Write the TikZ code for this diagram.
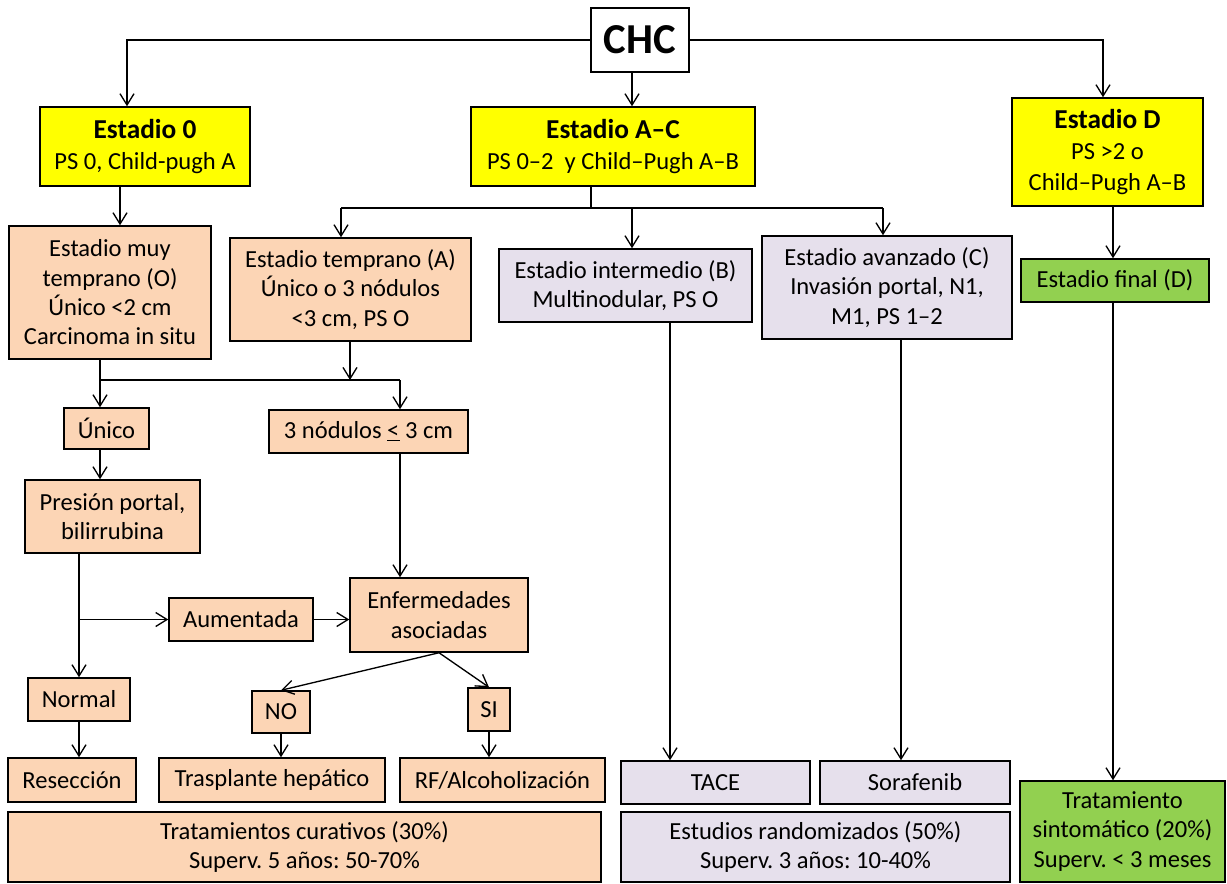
\documentclass[tikz,border=0pt]{standalone}
\usepackage{fontspec}
\setmainfont{Carlito}
\usetikzlibrary{arrows.meta}
\definecolor{cyel}{HTML}{FFFF00}
\definecolor{cpea}{HTML}{FCD5B5}
\definecolor{clav}{HTML}{E6E0EC}
\definecolor{cgrn}{HTML}{92D050}
\newcommand{\hdrfont}{\fontsize{20.5}{24}\selectfont\bfseries}
\frenchspacing
\tikzset{
  span/.style n args={4}{at={({(#1+#2)/2},{(#3+#4)/2})},
    minimum width={(#2-#1)*0.75pt}, minimum height={(#4-#3)*0.75pt}},
  bx/.style={draw=black, line width=1.1pt, inner sep=0pt, align=center,
    font=\fontsize{18.4}{22}\selectfont},
  ybx/.style={bx, fill=cyel, font=\fontsize{18.4}{23.5}\selectfont},
  pbx/.style={bx, fill=cpea},
  lbx/.style={bx, fill=clav},
  gbx/.style={bx, fill=cgrn},
  arr/.style={line width=1pt, -{Straight Barb[length=8.5pt,width=10.5pt,line width=1pt]}},
  ln/.style={line width=1pt}
}
\begin{document}
\begin{tikzpicture}[x=0.75pt,y=-0.75pt]
\useasboundingbox (0,0) rectangle (1227,883);
% top
\node[bx, fill=white, span={591}{689}{8}{72}, font=\fontsize{32}{36}\selectfont\bfseries] (chc) {CHC};
\node[ybx, span={40}{250}{107}{186}] (est0) {{\hdrfont Estadio 0}\\PS 0, Child-pugh A};
\node[ybx, span={471}{755}{107}{186}] (estAC) {{\hdrfont Estadio A--C}\\PS 0--2\ \ y Child--Pugh A--B};
\node[ybx, span={1012}{1203}{98}{206}] (estD) {{\hdrfont Estadio D}\\PS >2 o\\Child--Pugh A--B};
% second row
\node[pbx, span={9}{211}{226}{359}] (muy) {Estadio muy\\temprano (O)\\Único <2 cm\\Carcinoma in situ};
\node[pbx, span={230}{471}{238}{341}] (temp) {Estadio temprano (A)\\Único o 3 nódulos\\<3 cm, PS O};
\node[lbx, span={499}{752}{249}{322}] (inter) {Estadio intermedio (B)\\Multinodular, PS O};
\node[lbx, span={762}{1012}{236}{339}] (avan) {Estadio avanzado (C)\\Invasión portal, N1,\\M1, PS 1--2};
\node[gbx, span={1021}{1209}{259}{302}] (final) {Estadio final (D)};
% left branch
\node[pbx, span={64}{149}{408}{449}] (unico) {Único};
\node[pbx, span={269}{468}{410}{453}] (tres) {3 nódulos \underline{<} 3 cm};
\node[pbx, span={25}{200}{480}{553}] (pres) {Presión portal,\\bilirrubina};
\node[pbx, span={169}{313}{598}{641}] (aum) {Aumentada};
\node[pbx, span={350}{528}{578}{652}] (enf) {Enfermedades\\asociadas};
\node[pbx, span={28}{130}{678}{721}] (norm) {Normal};
\node[pbx, span={252}{310}{691}{733}] (no) {NO};
\node[pbx, span={468}{510}{688}{731}] (si) {SI};
% bottom
\node[pbx, span={8}{136}{758}{802}] (resec) {Resección};
\node[pbx, span={159}{385}{758}{802}] (trasp) {Trasplante hepático};
\node[pbx, span={400}{605}{758}{802}] (rf) {RF/Alcoholización};
\node[pbx, span={8}{601}{812}{882}] (cur) {Tratamientos curativos (30\%)\\Superv. 5 años: 50-70\%};
\node[lbx, span={621}{810}{761}{804}] (tace) {TACE};
\node[lbx, span={820}{1010}{761}{804}] (sora) {Sorafenib};
\node[lbx, span={621}{1010}{812}{882}] (estu) {Estudios randomizados (50\%)\\Superv. 3 años: 10-40\%};
\node[gbx, span={1020}{1225}{781}{882}] (sint) {Tratamiento\\sintomático (20\%)\\Superv. < 3 meses};
% junction coordinates
\coordinate (jAC) at (591,208);
\coordinate (jL) at (341,208);
\coordinate (jM) at (632,208);
\coordinate (jR) at (883,208);
\coordinate (jA) at (100,380);
\coordinate (jT) at (350,380);
\coordinate (jB) at (400,380);
% connectors
\draw[arr] (chc.west) -| (127,0 |- est0.north);
\draw[arr] (chc.east) -| (1103,0 |- estD.north);
\draw[arr] (632,0 |- chc.south) -- (632,0 |- estAC.north);
\draw[arr] (120,0 |- est0.south) -- (120,0 |- muy.north);
\draw[ln] (estAC.south -| jAC) -- (jAC);
\draw[ln] (jL) -- (jR);
\draw[arr] (jL) -- (jL |- temp.north);
\draw[arr] (jM) -- (jM |- inter.north);
\draw[arr] (jR) -- (jR |- avan.north);
\draw[arr] (1113,0 |- estD.south) -- (1113,0 |- final.north);
\draw[arr] (muy.south -| jA) -- (jA |- unico.north);
\draw[ln] (jA) -- (jB);
\draw[arr] (temp.south -| jT) -- (jT);
\draw[arr] (jB) -- (jB |- tres.north);
\draw[arr] (unico.south -| jA) -- (jA |- pres.north);
\draw[arr] (tres.south -| jB) -- (jB |- enf.north);
\draw[arr] (pres.south -| norm.north) -- (norm.north);
\draw[arr] (norm.north |- aum.west) -- (aum.west);
\draw[arr] (aum.east) -- (aum.east -| enf.west);
\draw[arr] (enf.south) -- (no.north);
\draw[arr] (enf.south) -- (si.north);
\draw[arr] (norm.south) -- (norm.south |- resec.north);
\draw[arr] (no.south) -- (no.south |- trasp.north);
\draw[arr] (si.south) -- (si.south |- rf.north);
\draw[arr] (670,0 |- inter.south) -- (670,0 |- tace.north);
\draw[arr] (901,0 |- avan.south) -- (901,0 |- sora.north);
\draw[arr] (1113,0 |- final.south) -- (1113,0 |- sint.north);
\end{tikzpicture}
\end{document}
